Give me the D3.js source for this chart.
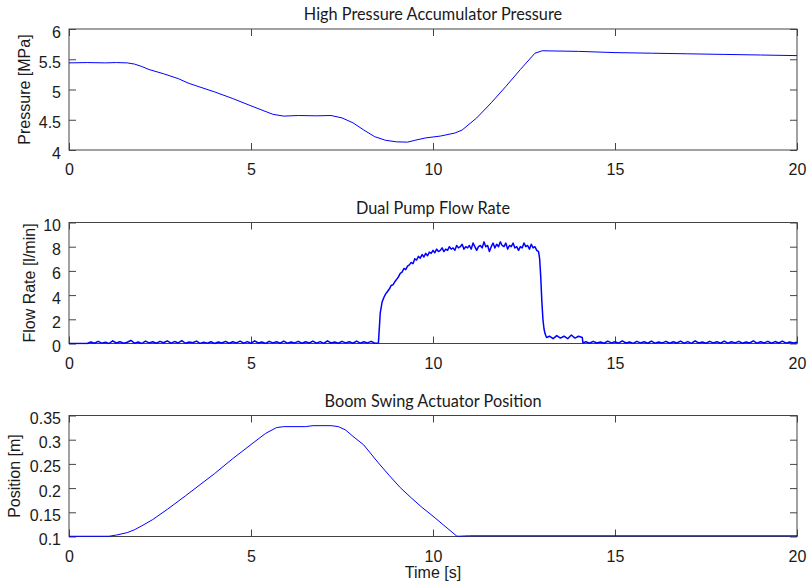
<!DOCTYPE html>
<html>
<head>
<meta charset="utf-8">
<script src="https://cdn.jsdelivr.net/npm/d3@7"></script>
<style>
  body { margin: 0; background: #fff; }
  svg text { font-family: "Liberation Sans", Arimo, Helvetica, Arial, Roboto; }
  .tick text { font-size: 16px; fill: #1a1a1a; }
  .tick line { stroke: #444; }
  .title { font-family: Lato, "Open Sans", sans-serif !important; font-size: 16.3px; fill: #1a1a1a; text-anchor: middle; }
  .ylab { font-size: 16px; fill: #1a1a1a; text-anchor: middle; }
</style>
</head>
<body>
<svg id="chart" width="810" height="588"></svg>
<script>
// time axis
const timeTicks = [0, 5, 10, 15, 20]

// high pressure accumulator pressure [t, MPa]
const pressure = [
  [0, 5.44], [0.5, 5.445], [1.0, 5.44], [1.3, 5.445], [1.6, 5.44], [1.8, 5.42], [2.0, 5.38],
  [2.2, 5.33], [2.6, 5.26], [3.0, 5.18], [3.3, 5.10], [3.6, 5.04], [4.0, 4.96], [4.5, 4.85],
  [5.0, 4.73], [5.3, 4.66], [5.6, 4.59], [5.9, 4.56], [6.3, 4.57], [6.8, 4.565], [7.2, 4.57],
  [7.5, 4.53], [7.8, 4.45], [8.1, 4.33], [8.4, 4.22], [8.7, 4.16], [9.0, 4.135], [9.3, 4.13],
  [9.5, 4.16], [9.8, 4.2], [10.2, 4.23], [10.6, 4.28], [10.8, 4.33], [11.2, 4.53], [11.6, 4.78],
  [12.0, 5.05], [12.4, 5.33], [12.8, 5.6], [13.0, 5.64], [14, 5.63], [15, 5.61], [16, 5.6],
  [17, 5.59], [18, 5.58], [19, 5.57], [20, 5.56]
]
const pressureTicks = [4, 4.5, 5, 5.5, 6]

// dual pump flow rate [t, l/min]
const flow = [
  [0, 0], [0.5, 0], [0.6, 0.12], [0.7, 0.02], [0.8, 0.18], [0.9, 0.03], [1.0, 0.1], [1.1, 0], [1.2, 0.22],
  [1.3, 0.04], [1.4, 0.15], [1.5, 0.02], [1.6, 0.1], [1.7, 0.25], [1.8, 0.03], [1.9, 0.12], [2.0, 0],
  [2.1, 0.2], [2.2, 0.05], [2.3, 0.14], [2.4, 0.02], [2.5, 0.18], [2.6, 0.06], [2.7, 0.22], [2.8, 0.03],
  [2.9, 0.16], [3.0, 0.05], [3.1, 0.24], [3.2, 0.02], [3.3, 0.12], [3.4, 0.06], [3.5, 0.2], [3.6, 0.01],
  [3.7, 0.1], [3.8, 0.03], [3.9, 0.15], [4.0, 0], [4.1, 0.12], [4.2, 0.04], [4.3, 0.18], [4.4, 0.02],
  [4.5, 0.14], [4.6, 0.05], [4.7, 0.2], [4.8, 0.03], [4.9, 0.16], [5.0, 0.02], [5.1, 0.22], [5.2, 0.04],
  [5.3, 0.12], [5.4, 0], [5.5, 0.18], [5.6, 0.05], [5.7, 0.15], [5.8, 0.02], [5.9, 0.2], [6.0, 0.03],
  [6.1, 0.12], [6.2, 0.05], [6.3, 0.18], [6.4, 0.02], [6.5, 0.14], [6.6, 0.04], [6.7, 0.2], [6.8, 0.03],
  [6.9, 0.16], [7.0, 0.01], [7.1, 0.22], [7.2, 0.04], [7.3, 0.12], [7.4, 0.02], [7.5, 0.18], [7.6, 0.05],
  [7.7, 0.15], [7.8, 0.02], [7.9, 0.2], [8.0, 0.03], [8.1, 0.14], [8.2, 0.05], [8.3, 0.18], [8.4, 0.02],
  [8.5, 0.05], [8.52, 1.0], [8.55, 2.5], [8.6, 3.4], [8.65, 3.8], [8.7, 4.1], [8.75, 4.3], [8.8, 4.5],
  [8.85, 4.8], [8.9, 4.85], [8.95, 5.1], [9.0, 5.3], [9.05, 5.5], [9.1, 5.8], [9.15, 5.9], [9.2, 6.2],
  [9.25, 6.1], [9.3, 6.4], [9.35, 6.5], [9.4, 6.7], [9.45, 6.6], [9.5, 7.0], [9.55, 6.9], [9.6, 7.2],
  [9.65, 7.05], [9.7, 7.35], [9.75, 7.15], [9.8, 7.45], [9.85, 7.25], [9.9, 7.55], [9.95, 7.45], [10.0, 7.7],
  [10.05, 7.5], [10.1, 7.8], [10.15, 7.6], [10.2, 7.7], [10.25, 7.9], [10.3, 7.6], [10.35, 7.8],
  [10.4, 7.7], [10.45, 8.0], [10.5, 7.8], [10.55, 7.9], [10.6, 7.7], [10.65, 8.1], [10.7, 7.9],
  [10.75, 8.0], [10.8, 8.2], [10.85, 7.8], [10.9, 8.0], [10.95, 7.9], [11.0, 8.1], [11.05, 7.8],
  [11.1, 8.3], [11.15, 8.0], [11.2, 7.7], [11.25, 8.0], [11.3, 8.1], [11.35, 7.9], [11.4, 8.4],
  [11.45, 8.0], [11.5, 8.1], [11.55, 7.6], [11.6, 8.0], [11.65, 8.3], [11.7, 7.9], [11.75, 8.2],
  [11.8, 8.0], [11.85, 8.4], [11.9, 8.1], [11.95, 8.0], [12.0, 8.3], [12.05, 7.8], [12.1, 8.1],
  [12.15, 8.0], [12.2, 8.3], [12.25, 7.9], [12.3, 8.0], [12.35, 7.7], [12.4, 8.0], [12.45, 7.9],
  [12.5, 8.3], [12.55, 8.0], [12.6, 8.1], [12.65, 7.8], [12.7, 8.2], [12.75, 7.9], [12.8, 8.0],
  [12.85, 7.7], [12.9, 7.6], [12.93, 7.0], [12.96, 5.5], [12.99, 3.5], [13.02, 2.0], [13.05, 1.2],
  [13.08, 0.8], [13.12, 0.5], [13.2, 0.6], [13.3, 0.4], [13.4, 0.65], [13.5, 0.45], [13.6, 0.6],
  [13.7, 0.4], [13.8, 0.7], [13.9, 0.45], [14.0, 0.6], [14.1, 0.5], [14.12, 0.05], [14.2, 0.15],
  [14.3, 0.02], [14.4, 0.18], [14.5, 0.04], [14.6, 0.12], [14.7, 0.02], [14.8, 0.2], [14.9, 0.05],
  [15.0, 0.14], [15.1, 0.03], [15.2, 0.22], [15.3, 0.04], [15.4, 0.12], [15.5, 0.01], [15.6, 0.18],
  [15.7, 0.05], [15.8, 0.15], [15.9, 0.02], [16.0, 0.2], [16.1, 0.03], [16.2, 0.12], [16.3, 0.05],
  [16.4, 0.18], [16.5, 0.02], [16.6, 0.14], [16.7, 0.04], [16.8, 0.2], [16.9, 0.03], [17.0, 0.16],
  [17.1, 0.01], [17.2, 0.22], [17.3, 0.04], [17.4, 0.12], [17.5, 0.02], [17.6, 0.18], [17.7, 0.05],
  [17.8, 0.15], [17.9, 0.02], [18.0, 0.2], [18.1, 0.03], [18.2, 0.14], [18.3, 0.05], [18.4, 0.18],
  [18.5, 0.02], [18.6, 0.12], [18.7, 0.04], [18.8, 0.22], [18.9, 0.03], [19.0, 0.14], [19.1, 0.05],
  [19.2, 0.18], [19.3, 0.02], [19.4, 0.16], [19.5, 0.04], [19.6, 0.2], [19.7, 0.03], [19.8, 0.12],
  [19.9, 0.05], [20, 0.1]
]
const flowTicks = [0, 2, 4, 6, 8, 10]

// boom swing actuator position [t, m]
const position = [
  [0, 0.1005], [1.1, 0.1005], [1.3, 0.103], [1.6, 0.108], [1.8, 0.114], [2.0, 0.122], [2.3, 0.135],
  [2.7, 0.156], [3.2, 0.184], [3.6, 0.207], [4.0, 0.23], [4.5, 0.261], [5.0, 0.29], [5.4, 0.313],
  [5.7, 0.325], [5.9, 0.327], [6.5, 0.327], [6.7, 0.329], [7.2, 0.329], [7.4, 0.327], [7.6, 0.32],
  [7.8, 0.307], [8.1, 0.289], [8.5, 0.252], [8.8, 0.226], [9.1, 0.201], [9.4, 0.18], [9.7, 0.16],
  [10.0, 0.142], [10.3, 0.123], [10.65, 0.101], [10.7, 0.1005], [11, 0.1015], [20, 0.1015]
]
const positionTicks = [0.1, 0.15, 0.2, 0.25, 0.3, 0.35]

const svg = d3.select('#chart')
const left = 69, right = 797

const x = d3.scaleLinear().domain([0, 20]).range([left, right])

const panels = [
  {data: pressure, ticks: pressureTicks, top: 29, bottom: 150, title: 'High Pressure Accumulator Pressure',
   ylabel: 'Pressure [MPa]', labelX: 30, width: 1},
  {data: flow, ticks: flowTicks, top: 222.5, bottom: 343.5, title: 'Dual Pump Flow Rate',
   ylabel: 'Flow Rate [l/min]', labelX: 35, width: 1.5},
  {data: position, ticks: positionTicks, top: 415.5, bottom: 536.5, title: 'Boom Swing Actuator Position',
   ylabel: 'Position [m]', labelX: 20, width: 1}
]

panels.forEach((p, i) => {
  const y = d3.scaleLinear()
              .domain([p.ticks[0], p.ticks[p.ticks.length - 1]])
              .range([p.bottom, p.top])
  const g = svg.append('g')

  g.append('clipPath').attr('id', 'clip' + i)
   .append('rect').attr('x', left).attr('y', p.top - 1)
   .attr('width', right - left).attr('height', p.bottom - p.top + 2)

  g.append('g').attr('transform', 'translate(0,' + p.bottom + ')')
   .call(d3.axisBottom(x).tickValues(timeTicks).tickFormat(d => d).tickSize(-7).tickPadding(14))
  g.append('g').attr('transform', 'translate(0,' + p.top + ')')
   .call(d3.axisTop(x).tickValues(timeTicks).tickFormat('').tickSize(-7))
  g.append('g').attr('class', 'yaxis').attr('transform', 'translate(' + left + ',0)')
   .call(d3.axisLeft(y).tickValues(p.ticks).tickFormat(d => d).tickSize(-7).tickPadding(8))
  g.append('g').attr('transform', 'translate(' + right + ',0)')
   .call(d3.axisRight(y).tickValues(p.ticks).tickFormat('').tickSize(-7))
  g.selectAll('.domain').remove()
  g.selectAll('g').attr('font-family', null).attr('font-size', null)
  g.selectAll('.yaxis .tick text').attr('dy', '0.5em')

  g.append('rect').attr('x', left).attr('y', p.top)
   .attr('width', right - left).attr('height', p.bottom - p.top)
   .attr('fill', 'none').attr('stroke', '#444').attr('stroke-width', 1)

  g.append('path').datum(p.data)
   .attr('clip-path', 'url(#clip' + i + ')')
   .attr('fill', 'none').attr('stroke', '#0000ff').attr('stroke-width', p.width)
   .attr('stroke-linejoin', 'round')
   .attr('d', d3.line().x(d => x(d[0])).y(d => y(d[1])))

  g.append('text').attr('class', 'title')
   .attr('x', (left + right) / 2).attr('y', p.top - 9)
   .text(p.title)

  g.append('text').attr('class', 'ylab')
   .attr('transform', 'translate(' + p.labelX + ',' + ((p.top + p.bottom) / 2) + ') rotate(-90)')
   .text(p.ylabel)
})

svg.append('text').attr('class', 'ylab')
   .attr('x', (left + right) / 2).attr('y', 578)
   .text('Time [s]')
</script>
</body>
</html>
